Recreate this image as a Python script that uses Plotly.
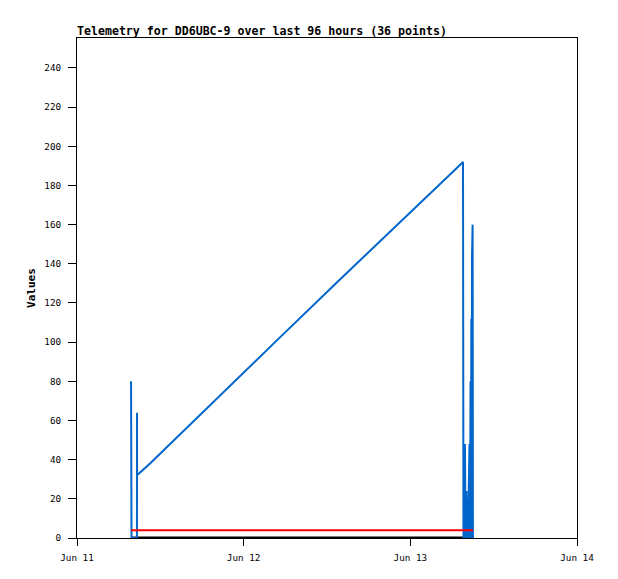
import plotly.graph_objects as go

title_text = "Telemetry for DD6UBC-9 over last 96 hours (36 points)"

blue_times = [
    "2024-06-11 07:47", "2024-06-11 07:51", "2024-06-11 08:38", "2024-06-11 08:38:30",
    "2024-06-11 08:39", "2024-06-11 10:31", "2024-06-11 17:43", "2024-06-12 04:31",
    "2024-06-12 13:52", "2024-06-12 22:31", "2024-06-13 06:26", "2024-06-13 07:35",
    "2024-06-13 07:39", "2024-06-13 07:52", "2024-06-13 07:57", "2024-06-13 08:05",
    "2024-06-13 08:10", "2024-06-13 08:14", "2024-06-13 08:18", "2024-06-13 08:31",
    "2024-06-13 08:36", "2024-06-13 08:40", "2024-06-13 08:44", "2024-06-13 08:47",
    "2024-06-13 08:49", "2024-06-13 08:53", "2024-06-13 08:55", "2024-06-13 08:58",
    "2024-06-13 09:01",
]
blue_values = [
    80, 0, 0, 64,
    32, 38, 63, 100,
    132, 161, 188, 192,
    0, 48, 0, 24,
    0, 16, 0, 48,
    0, 80, 0, 112,
    0, 144, 0, 160,
    0,
]

red_times = ["2024-06-11 07:47", "2024-06-13 09:01"]
red_values = [4, 4]
black_times = ["2024-06-11 07:47", "2024-06-13 09:01"]
black_values = [0, 0]

x_range = ["2024-06-11 00:00", "2024-06-14 00:00"]
x_ticks = ["2024-06-11", "2024-06-12", "2024-06-13", "2024-06-14"]
x_ticklabels = ["Jun 11", "Jun 12", "Jun 13", "Jun 14"]
y_ticks = list(range(0, 241, 20))

mono = "DejaVu Sans Mono"

fig = go.Figure()
fig.add_trace(go.Scatter(x=black_times, y=black_values, mode="lines",
                         line=dict(color="#000000", width=3), showlegend=False))
fig.add_trace(go.Scatter(x=blue_times, y=blue_values, mode="lines",
                         line=dict(color="#0066CC", width=2), showlegend=False))
fig.add_trace(go.Scatter(x=red_times, y=red_values, mode="lines",
                         line=dict(color="#FF0000", width=2), showlegend=False))

fig.update_layout(
    width=618, height=579,
    margin=dict(l=77, r=41, t=38, b=41),
    paper_bgcolor="white", plot_bgcolor="white",
    title=dict(text="<b>" + title_text + "</b>", x=77/618, xanchor="left",
               y=1 - 31/579, yanchor="middle", xref="container", yref="container",
               font=dict(family=mono, size=11.6, color="black")),
    xaxis=dict(type="date", range=x_range, tickvals=x_ticks, ticktext=x_ticklabels,
               showgrid=False, zeroline=False, showline=True, linecolor="black",
               linewidth=1, mirror=True, ticks="outside", ticklen=7, tickcolor="black",
               ticklabelstandoff=4,
               tickfont=dict(family=mono, size=9.3, color="black"), automargin=False),
    yaxis=dict(range=[0, 255.3], tickvals=y_ticks, showgrid=False, zeroline=False,
               showline=True, linecolor="black", linewidth=1, mirror=True,
               ticks="outside", ticklen=8, tickcolor="black", automargin=False,
               ticklabelstandoff=5,
               tickfont=dict(family=mono, size=9.3, color="black"),
               title=dict(text="<b>Values</b>", standoff=6,
                          font=dict(family=mono, size=11, color="black"))),
)

fig.write_html("out.html", config={"displayModeBar": False},
               post_script="document.body.style.margin='0';")
